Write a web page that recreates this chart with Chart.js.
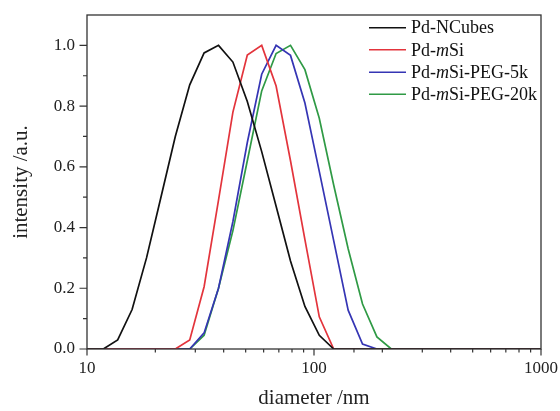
<!DOCTYPE html>
<html>
<head>
<meta charset="utf-8">
<script src="https://cdn.jsdelivr.net/npm/chart.js@4.4.1/dist/chart.umd.min.js"></script>
<style>
html,body{margin:0;padding:0;background:#fff;}
#c{display:block;}
</style>
</head>
<body>
<canvas id="c" width="560" height="411"></canvas>
<script>
// ---- data ----
const sizes = [10, 11.8, 13.65, 15.8, 18.29, 21.17, 24.49, 28.35, 32.8, 37.96, 43.93, 50.84, 58.83, 68.09, 78.79, 91.2, 105.5, 122.1, 141.4, 163.6, 189.3, 219.1, 253.5, 1000];
const ncubes = [0, 0, 0.03, 0.13, 0.30, 0.50, 0.70, 0.87, 0.975, 1.0, 0.945, 0.815, 0.65, 0.47, 0.29, 0.14, 0.045, 0, 0, 0, 0, 0, 0, 0];
const msi    = [0, 0, 0, 0, 0, 0, 0, 0.03, 0.205, 0.49, 0.78, 0.968, 1.0, 0.866, 0.62, 0.36, 0.106, 0, 0, 0, 0, 0, 0, 0];
const peg5k  = [0, 0, 0, 0, 0, 0, 0, 0, 0.053, 0.2, 0.42, 0.68, 0.905, 1.0, 0.967, 0.81, 0.585, 0.357, 0.128, 0.016, 0, 0, 0, 0];
const peg20k = [0, 0, 0, 0, 0, 0, 0, 0, 0.045, 0.2, 0.39, 0.62, 0.85, 0.973, 1.0, 0.92, 0.76, 0.54, 0.33, 0.148, 0.04, 0, 0, 0];
const seriesLabels = ['Pd-NCubes', 'Pd-mSi', 'Pd-mSi-PEG-5k', 'Pd-mSi-PEG-20k'];
const seriesColors = ['#111111', '#e3343c', '#3535b4', '#2f9a45'];
const xTickLabels = [10, 100, 1000];
const yTickLabels = [0, 0.2, 0.4, 0.6, 0.8, 1.0];

const SERIF = '"Liberation Serif", "Times New Roman", serif';
const INK = '#222';

function pts(vals){ return sizes.map((s,i)=>({x:s, y:vals[i]})); }
const allVals = [ncubes, msi, peg5k, peg20k];

function noPad(s){ s.paddingLeft = 0; s.paddingRight = 0; s.paddingTop = 0; s.paddingBottom = 0; }

const frameAndTicks = {
  id: 'frameAndTicks',
  afterDraw(chart){
    const ctx = chart.ctx, a = chart.chartArea;
    const xs = chart.scales.x, ys = chart.scales.y;
    ctx.save();
    ctx.strokeStyle = '#333';
    ctx.lineWidth = 1.3;
    ctx.strokeRect(a.left, a.top, a.right - a.left, a.bottom - a.top);
    ctx.lineWidth = 1.2;
    ctx.beginPath();
    xs.ticks.forEach(t => {
      const v = t.value;
      const lg = Math.log10(v);
      const major = Math.abs(lg - Math.round(lg)) < 1e-6;
      const px = xs.getPixelForValue(v);
      ctx.moveTo(px, a.bottom);
      ctx.lineTo(px, a.bottom + (major ? 6.5 : 3.5));
    });
    ys.ticks.forEach(t => {
      const v = t.value;
      if (v > 1.05) return;
      const major = Math.round(v * 10) % 2 === 0;
      const py = ys.getPixelForValue(v);
      ctx.moveTo(a.left, py);
      ctx.lineTo(a.left - (major ? 7.5 : 4), py);
    });
    ctx.stroke();

    // legend
    const lx0 = 369, lx1 = 406, tx = 411;
    const rows = [27.7, 49.8, 72.2, 94.3];
    chart.data.datasets.forEach((ds, i) => {
      const y = rows[i];
      ctx.strokeStyle = ds.borderColor;
      ctx.lineWidth = 1.6;
      ctx.beginPath();
      ctx.moveTo(lx0, y); ctx.lineTo(lx1, y); ctx.stroke();
      ctx.fillStyle = '#111';
      ctx.textBaseline = 'middle';
      ctx.textAlign = 'left';
      const m = /^(Pd-)(m)(Si.*)$/.exec(ds.label);
      const parts = m ? [[m[1], false], [m[2], true], [m[3], false]] : [[ds.label, false]];
      let x = tx;
      parts.forEach(([s, it]) => {
        ctx.font = (it ? 'italic ' : '') + '18px ' + SERIF;
        ctx.fillText(s, x, y + 1);
        x += ctx.measureText(s).width;
      });
    });
    ctx.restore();
  }
};

new Chart(document.getElementById('c'), {
  type: 'line',
  data: {
    datasets: seriesLabels.map((lab, i) => ({
      label: lab,
      data: pts(allVals[i]),
      borderColor: seriesColors[i],
      backgroundColor: seriesColors[i],
      borderWidth: 1.7,
      pointRadius: 0,
      tension: 0,
      fill: false
    }))
  },
  options: {
    responsive: false,
    animation: false,
    devicePixelRatio: 1,
    layout: { padding: { left: 0, right: 19, top: 15, bottom: 0 } },
    plugins: { legend: { display: false }, tooltip: { enabled: false } },
    scales: {
      x: {
        type: 'logarithmic',
        min: 10, max: 1000,
        grid: { display: false, drawTicks: false },
        border: { display: false },
        ticks: {
          autoSkip: false, maxRotation: 0, padding: 9,
          color: INK,
          font: { family: SERIF, size: 17 },
          callback: (v) => xTickLabels.includes(Number(v)) ? String(v) : ''
        },
        title: {
          display: true, text: 'diameter /nm', color: INK,
          font: { family: SERIF, size: 21 },
          padding: { top: 0, bottom: 0 }
        },
        afterFit: (s) => { s.height = 62; noPad(s); }
      },
      y: {
        type: 'linear',
        min: 0, max: 1.1,
        grid: { display: false, drawTicks: false },
        border: { display: false },
        ticks: {
          stepSize: 0.1, autoSkip: false, padding: 12,
          color: INK,
          font: { family: SERIF, size: 17 },
          callback: (v) => {
            const r = Math.round(v * 10) / 10;
            return yTickLabels.some(t => Math.abs(t - r) < 1e-9) && Math.abs(v - r) < 1e-6 ? r.toFixed(1) : '';
          }
        },
        title: {
          display: true, text: 'intensity /a.u.', color: INK,
          font: { family: SERIF, size: 21 },
          padding: { top: 9, bottom: 0 }
        },
        afterFit: (s) => { s.width = 87; noPad(s); }
      }
    }
  },
  plugins: [frameAndTicks]
});
</script>
</body>
</html>
